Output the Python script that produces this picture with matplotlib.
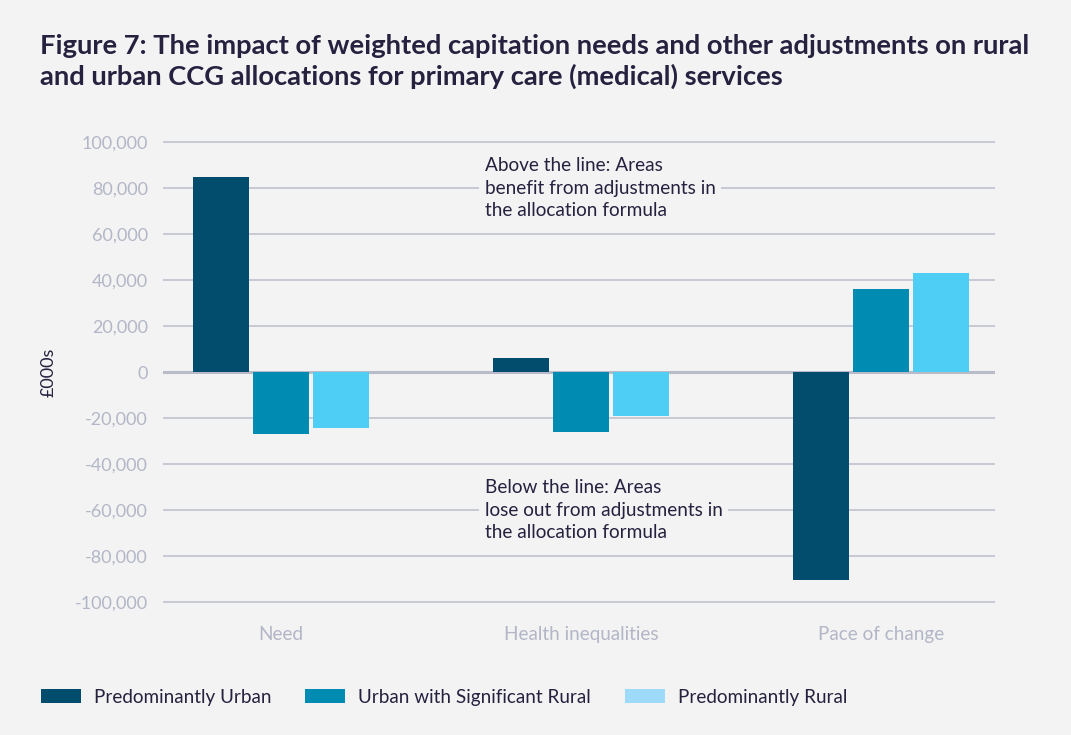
import matplotlib
matplotlib.use("Agg")
import matplotlib.pyplot as plt
import numpy as np
from matplotlib.patches import Patch

categories = ["Need", "Health inequalities", "Pace of change"]
series_names = ["Predominantly Urban", "Urban with Significant Rural", "Predominantly Rural"]
urban = [84800, 6100, -90400]
urban_sig_rural = [-27000, -26100, 36100]
rural = [-24400, -19100, 43000]
y_ticks = [-100000, -80000, -60000, -40000, -20000, 0, 20000, 40000, 60000, 80000, 100000]

title = ("Figure 7: The impact of weighted capitation needs and other adjustments on rural\n"
         "and urban CCG allocations for primary care (medical) services")
note_above = "Above the line: Areas\nbenefit from adjustments in\nthe allocation formula"
note_below = "Below the line: Areas\nlose out from adjustments in\nthe allocation formula"

BG = "#F3F3F3"
DARK = "#25213F"
GRID = "#C3C6D1"
TICK = "#B3B6C6"
bar_colors = ["#024D6E", "#008BB3", "#4FCEF5"]
legend_colors = ["#024D6E", "#008BB3", "#9EDBFB"]

plt.rcParams['font.family'] = ['Lato', 'DejaVu Sans']

fig = plt.figure(figsize=(10.71, 7.35), dpi=100, facecolor=BG)
ax = fig.add_axes([163/1071, 0.1653, 832/1071, 0.657])
ax.set_facecolor(BG)

x = np.arange(len(categories))
step = 0.2
width = 0.187
for i, (vals, col, name) in enumerate(zip([urban, urban_sig_rural, rural], bar_colors, series_names)):
    ax.bar(x + (i - 1) * step, vals, width=width, color=col, label=name, zorder=3)

ax.set_xlim(-0.393, 2.38)
ax.set_ylim(-105000, 105000)
ax.set_yticks(y_ticks)
ax.set_yticklabels([f"{v:,}" for v in y_ticks])
ax.set_xticks(x)
ax.set_xticklabels(categories)
ax.grid(axis='y', color=GRID, linewidth=1.3, zorder=0)
ax.axhline(0, color="#B9BCC8", linewidth=2.2, zorder=2)
for s in ax.spines.values():
    s.set_visible(False)
ax.tick_params(axis='y', length=0, colors=TICK, labelsize=13, pad=11)
ax.tick_params(axis='x', length=0, colors=TICK, labelsize=13.6, pad=9)
ax.set_ylabel("£000s", color=DARK, fontsize=13)
ax.yaxis.set_label_coords(-0.128, 0.5)

ax.text(0.679, 80000, note_above, color=DARK, fontsize=13.7, ha='left', va='center',
        linespacing=1.42, zorder=4,
        bbox=dict(boxstyle='square,pad=0.3', facecolor=BG, edgecolor='none'))
ax.text(0.679, -60000, note_below, color=DARK, fontsize=13.7, ha='left', va='center',
        linespacing=1.42, zorder=4,
        bbox=dict(boxstyle='square,pad=0.3', facecolor=BG, edgecolor='none'))

fig.text(40/1071, 1 - 34/735, title, color=DARK, fontsize=19.7, fontweight='bold',
         ha='left', va='top', linespacing=1.28)

handles = [Patch(facecolor=c, edgecolor='none') for c in legend_colors]
leg = fig.legend(handles, series_names, loc='center left', bbox_to_anchor=(24/1071, 1 - 697/735),
                 ncol=3, frameon=False, fontsize=13.6, handlelength=2.1, handleheight=0.8,
                 handletextpad=0.7, columnspacing=1.8, labelcolor=DARK)

fig.savefig("out.png", dpi=100, facecolor=BG)
